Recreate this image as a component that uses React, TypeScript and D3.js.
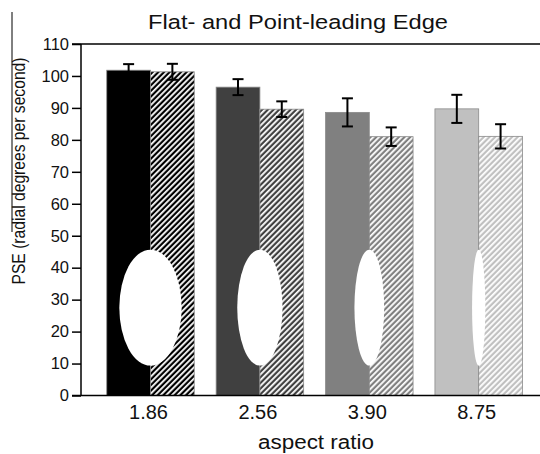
import React, { useEffect, useRef } from 'react';
import * as d3 from 'd3';

// aspect ratio categories
const aspectRatios = ['1.86', '2.56', '3.90', '8.75'];
const aspectValues = [1.86, 2.56, 3.9, 8.75];
// flat-leading edge (solid bars)
const flatPSE = [101.8, 96.5, 88.6, 89.7];
const flatErr = [1.9, 2.5, 4.4, 4.4];
// point-leading edge (hatched bars)
const pointPSE = [101.3, 89.6, 81.0, 81.1];
const pointErr = [2.5, 2.45, 2.9, 3.8];
const barColors = ['#000000', '#404040', '#808080', '#c0c0c0'];
const yTicks = [0, 10, 20, 30, 40, 50, 60, 70, 80, 90, 100, 110];
// white ellipse drawn over each pair (centre and half height in PSE units)
const ellipseCenter = 27.5;
const ellipseHalfHeight = 18.15;

const W = 540;
const H = 454;
const FONT = '"Liberation Sans", Arial, Helvetica, sans-serif';
const INK = '#111';

const App = () => {
  const ref = useRef(null);

  useEffect(() => {
    document.body.style.margin = '0';
    const svg = d3.select(ref.current);
    svg.selectAll('*').remove();

    const axisX = 81;
    const y = d3.scaleLinear().domain([0, 110]).range([395.5, 44]);
    const x = d3.scaleBand()
      .domain(aspectRatios)
      .range([95.8, 533.4])
      .paddingInner(0.2)
      .paddingOuter(0.1);
    const half = x.bandwidth() / 2;

    // hatch patterns
    const defs = svg.append('defs');
    barColors.forEach((c, i) => {
      const p = defs.append('pattern')
        .attr('id', `hatch-${i}`)
        .attr('patternUnits', 'userSpaceOnUse')
        .attr('width', 4)
        .attr('height', 4)
        .attr('patternTransform', 'rotate(45)');
      p.append('rect').attr('width', 4).attr('height', 4).attr('fill', c);
      p.append('rect').attr('x', 0).attr('width', 1.8).attr('height', 4).attr('fill', '#fff');
    });

    const g = svg.append('g');

    // solid bars
    g.selectAll('.flat')
      .data(flatPSE)
      .join('rect')
      .attr('x', (d, i) => x(aspectRatios[i]))
      .attr('y', d => y(d))
      .attr('width', half)
      .attr('height', d => y(0) - y(d))
      .attr('fill', (d, i) => barColors[i])
      .attr('stroke', '#8a8a8a')
      .attr('stroke-width', 0.8);

    // hatched bars
    g.selectAll('.point')
      .data(pointPSE)
      .join('rect')
      .attr('x', (d, i) => x(aspectRatios[i]) + half)
      .attr('y', d => y(d))
      .attr('width', half)
      .attr('height', d => y(0) - y(d))
      .attr('fill', (d, i) => `url(#hatch-${i})`)
      .attr('stroke', '#8a8a8a')
      .attr('stroke-width', 0.8);

    // ellipses
    const ry = y(0) - y(ellipseHalfHeight);
    g.selectAll('ellipse')
      .data(aspectValues)
      .join('ellipse')
      .attr('cx', (d, i) => x(aspectRatios[i]) + half)
      .attr('cy', y(ellipseCenter))
      .attr('rx', d => ry / d)
      .attr('ry', ry)
      .attr('fill', '#fff');

    // error bars
    const errs = [
      ...flatPSE.map((v, i) => ({ cx: x(aspectRatios[i]) + half / 2, v, e: flatErr[i] })),
      ...pointPSE.map((v, i) => ({ cx: x(aspectRatios[i]) + half * 1.5, v, e: pointErr[i] })),
    ];
    const eb = g.selectAll('.err').data(errs).join('g').attr('stroke', '#000').attr('stroke-width', 2);
    eb.append('line')
      .attr('x1', d => d.cx).attr('x2', d => d.cx)
      .attr('y1', d => y(d.v - d.e)).attr('y2', d => y(d.v + d.e));
    eb.append('line')
      .attr('x1', d => d.cx - 5.5).attr('x2', d => d.cx + 5.5)
      .attr('y1', d => y(d.v + d.e)).attr('y2', d => y(d.v + d.e));
    eb.append('line')
      .attr('x1', d => d.cx - 5.5).attr('x2', d => d.cx + 5.5)
      .attr('y1', d => y(d.v - d.e)).attr('y2', d => y(d.v - d.e));

    // frame lines (top and bottom) and y axis
    const frame = svg.append('g').attr('stroke', '#000').attr('stroke-width', 1.5);
    frame.append('line').attr('x1', 72).attr('x2', W).attr('y1', y(110)).attr('y2', y(110));
    frame.append('line').attr('x1', 72).attr('x2', W).attr('y1', y(0)).attr('y2', y(0));

    const yAxis = svg.append('g')
      .attr('transform', `translate(${axisX},0)`)
      .call(d3.axisLeft(y).tickValues(yTicks).tickSize(9).tickPadding(3));
    yAxis.select('.domain').attr('stroke-width', 1.5).attr('d', `M0,${y(110)}V${y(0)}`);
    yAxis.selectAll('.tick line').attr('stroke-width', 1.5);
    yAxis.selectAll('.tick text')
      .attr('font-family', FONT)
      .attr('font-size', 16.5)
      .attr('fill', INK);

    // x tick labels
    svg.selectAll('.xlab')
      .data(aspectRatios)
      .join('text')
      .attr('x', d => x(d) + half - 2)
      .attr('y', 419)
      .attr('text-anchor', 'middle')
      .attr('font-family', FONT)
      .attr('font-size', 20)
      .attr('fill', INK)
      .text(d => d);

    svg.append('text')
      .attr('x', 316)
      .attr('y', 449)
      .attr('text-anchor', 'middle')
      .attr('font-family', FONT)
      .attr('font-size', 19.5)
      .attr('textLength', 116)
      .attr('lengthAdjust', 'spacingAndGlyphs')
      .attr('fill', INK)
      .text('aspect ratio');

    svg.append('text')
      .attr('transform', 'translate(25,171) rotate(-90)')
      .attr('text-anchor', 'middle')
      .attr('font-family', FONT)
      .attr('font-size', 18)
      .attr('textLength', 227)
      .attr('lengthAdjust', 'spacingAndGlyphs')
      .attr('fill', INK)
      .text('PSE (radial degrees per second)');

    svg.append('text')
      .attr('x', 298)
      .attr('y', 29)
      .attr('text-anchor', 'middle')
      .attr('font-family', FONT)
      .attr('font-size', 20.5)
      .attr('textLength', 300)
      .attr('lengthAdjust', 'spacingAndGlyphs')
      .attr('fill', INK)
      .text('Flat- and Point-leading Edge');

    // stray vertical rule at the left edge
    svg.append('line')
      .attr('x1', 12).attr('x2', 12).attr('y1', 12).attr('y2', 232)
      .attr('stroke', '#000').attr('stroke-width', 1);
  }, []);

  return <svg ref={ref} width={W} height={H} style={{ display: 'block', background: '#fff' }} />;
};

export default App;
